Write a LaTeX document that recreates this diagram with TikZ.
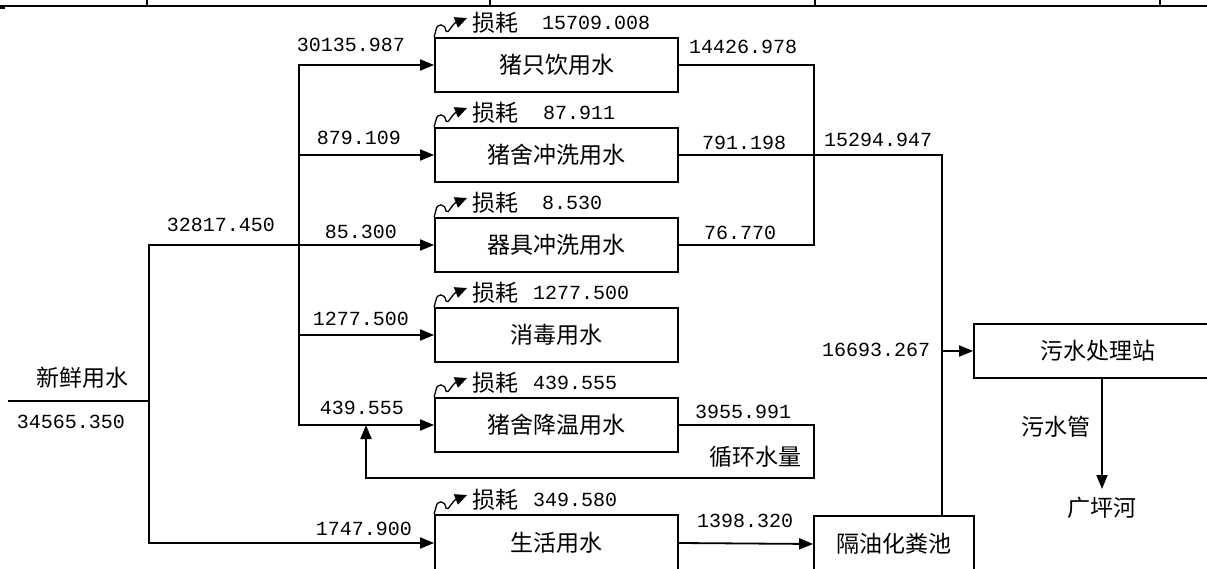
\documentclass[tikz,border=0pt]{standalone}
\usepackage{fontspec}
\setmainfont{Liberation Mono}
\newfontfamily\cjk{Noto Sans CJK SC}
\usetikzlibrary{arrows.meta}
\tikzset{
  ln/.style={line width=1.8pt},
  arr/.style={line width=1.8pt, -{Triangle[length=14pt,width=11pt]}},
  lossarr/.style={line width=1.3pt, -{Triangle[length=12pt,width=11pt]}},
  box/.style={draw, line width=1.8pt, minimum width=243pt, minimum height=54pt, inner sep=0pt, font=\cjk\fontsize{23}{23}\selectfont},
  num/.style={inner sep=0pt, font=\fontsize{20}{20}\selectfont},
  cj/.style={inner sep=0pt, font=\cjk\fontsize{23}{23}\selectfont}
}
\begin{document}
\begin{tikzpicture}[x=1pt,y=-1pt]
\useasboundingbox (0,0) rectangle (1207,569);
% top rule
\coordinate (tl) at (0,6); \coordinate (tr) at (1207,6);
\draw[ln] (tl) -- (tr);
\foreach \xx in {147,490,815,1160} { \draw[ln] (\xx,0) -- (\xx,6); }
\draw[line width=1.2pt] (0,8) -- (5,8);
% boxes
\node[box] (b1) at (556.5,65) {猪只饮用水};
\node[box] (b2) at (556.5,155) {猪舍冲洗用水};
\node[box] (b3) at (556.5,245) {器具冲洗用水};
\node[box] (b4) at (556.5,335) {消毒用水};
\node[box] (b5) at (556.5,425) {猪舍降温用水};
\node[box, minimum height=56pt] (b6) at (556.5,543) {生活用水};
\node[box, minimum width=160pt, minimum height=56pt] (sep) at (894,544) {隔油化粪池};
\node[box, minimum width=248pt] (wt) at (1098,351) {污水处理站};
% losses
\foreach \T/\i/\v/\vx in {38/1/15709.008/542, 128/2/87.911/543, 218/3/8.530/542, 308/4/1277.500/533, 398/5/439.555/533, 515/6/349.580/533} {
  \coordinate (s\i) at (467,\T-20);
  \draw[lossarr] (b\i.north west) -- (436,\T-8) .. controls (437,\T-15) and (445,\T-15) .. (446,\T-7) .. controls (448,\T-3) and (452,\T-14) .. (s\i);
  \node[cj, anchor=west] (l\i) at (472,\T-15) {损耗};
  \node[num, anchor=west] (v\i) at (\vx,\T-15) {\v};
}
% fresh water
\node[cj] (fresh) at (82,378) {新鲜用水};
\node[num] (freshv) at (71,422) {34565.350};
\coordinate (fw) at (8,401);
\coordinate (j1) at (149,401);
\draw[ln] (fw) -- (j1);
\draw[arr] (j1) |- (b3.west);
\draw[arr] (j1) |- (b6.west);
\coordinate (t) at (299,245);
\draw[arr] (t) |- (b1.west);
\draw[arr] (t) |- (b2.west);
\draw[arr] (t) |- (b4.west);
\draw[arr] (t) |- (b5.west);
% input labels
\node[num] (n0) at (221,225) {32817.450};
\node[num] (n1) at (351,45) {30135.987};
\node[num] (n2) at (359,138) {879.109};
\node[num] (n3) at (361,232) {85.300};
\node[num] (n4) at (361,319) {1277.500};
\node[num] (n5) at (362,408) {439.555};
\node[num] (n6) at (364,529) {1747.900};
% recycle
\coordinate (r1) at (814,425);
\coordinate (r2) at (814,478);
\coordinate (r3) at (366,478);
\coordinate (r4) at (366,425);
\draw[arr] (b5.east) -- (r1) -- (r2) -- (r3) -- (r4);
\node[num] (rv) at (743,412) {3955.991};
\node[cj] (rl) at (755,457) {循环水量};
% outputs
\coordinate (m3) at (814,245);
\draw[ln] (b1.east) -| (m3) -- (b3.east);
\coordinate (k1) at (942,155);
\draw[ln] (b2.east) -- (k1) -- (k1 |- sep.north);
\draw[arr] (k1 |- wt.west) -- (wt.west);
\draw[arr] (b6.east) -- (sep.west);
\node[num] (o1) at (743,47) {14426.978};
\node[num] (o2) at (744,143) {791.198};
\node[num] (o3) at (740,233) {76.770};
\node[num] (o4) at (878,140) {15294.947};
\node[num] (o5) at (876,350) {16693.267};
\node[num] (o6) at (745,521) {1398.320};
% discharge
\coordinate (w1) at (1102,378);
\coordinate (w2) at (1102,489);
\draw[arr] (w1) -- (w2);
\node[cj] (pipe) at (1056,427) {污水管};
\node[cj] (river) at (1102,508) {广坪河};
\end{tikzpicture}
\end{document}
